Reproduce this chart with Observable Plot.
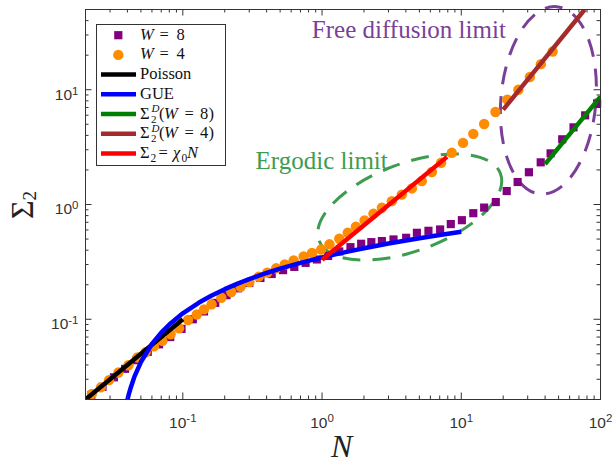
<!DOCTYPE html>
<html><head><meta charset="utf-8">
<script src="https://cdn.jsdelivr.net/npm/d3@7"></script>
<script src="https://cdn.jsdelivr.net/npm/@observablehq/plot@0.6"></script>
<style>
body{margin:0;background:#fff;}
#wrap{position:relative;width:613px;height:462px;}
#overlay{position:absolute;left:0;top:0;pointer-events:none;}
</style></head><body>
<div id="wrap"></div>
<script>
// ---- data ----
// W = 8 (purple squares)
const N8 = [0.0220,0.0265,0.0320,0.0385,0.0464,0.0560,0.0675,0.0812,0.0979,0.118,0.142,0.171,0.206,0.249,0.300,0.361,0.435,0.525,0.632,0.762,0.918,1.106,1.33,1.60,1.91,2.26,2.69,3.26,4.02,4.80,5.81,7.05,8.41,10.1,12.2,14.6,17.7,21.2,25.4,30.6,37.2,43.8,53.1,64.0,77.6,94.6];
const S8 = [0.0218,0.0258,0.0312,0.0370,0.0440,0.0520,0.0605,0.0700,0.0825,0.1,0.117,0.139,0.162,0.186,0.207,0.229,0.248,0.268,0.286,0.310,0.332,0.356,0.39,0.425,0.455,0.47,0.48,0.496,0.513,0.567,0.59,0.606,0.675,0.73,0.84,0.94,1.05,1.31,1.57,1.91,2.33,2.79,3.70,4.70,5.98,7.60];
// W = 4 (orange circles)
const N4 = [0.0222,0.0258,0.0295,0.0345,0.0407,0.0472,0.0541,0.0621,0.0713,0.0817,0.094,0.109,0.126,0.142,0.161,0.189,0.223,0.26,0.301,0.351,0.404,0.468,0.54,0.625,0.738,0.847,0.984,1.13,1.33,1.53,1.75,2.02,2.34,2.69,3.17,3.74,4.42,5.21,6.15,7.17,8.55,10.3,12.2,14.6,17.6,21.4,25.7,31.1,37.3,45.3];
const S4 = [0.0223,0.0255,0.0295,0.0344,0.0398,0.0465,0.0516,0.0582,0.0648,0.0741,0.0835,0.0986,0.110,0.122,0.135,0.154,0.173,0.192,0.211,0.235,0.255,0.278,0.30,0.325,0.352,0.378,0.405,0.45,0.503,0.567,0.64,0.726,0.83,0.936,1.07,1.22,1.38,1.60,1.92,2.31,2.82,3.44,4.12,5.03,6.4,8.19,10.0,12.9,16.7,21.5];
// Poisson
const NP = [0.02, 0.1];
const SP = [0.02, 0.1];
// GUE
const NG = [0.04,0.041,0.042,0.045,0.05,0.06,0.07,0.08,0.1,0.13,0.16,0.2,0.25,0.3,0.4,0.5,0.7,1,1.5,2,3,5,7,10];
const SG = [0.0199,0.0224,0.0248,0.0318,0.0424,0.0609,0.0766,0.0901,0.1127,0.1393,0.1603,0.183,0.2055,0.224,0.2531,0.2758,0.3098,0.346,0.387,0.4162,0.4573,0.509,0.543,0.579];
// Sigma2^D (W=8), (W=4), chi0 N
const NDg = [40, 100];  const SDg = [2.25, 8.7];
const NDb = [20, 77];   const SDb = [6.7, 50];
const NR = [1, 7.9];    const SR = [0.33, 2.6];
// ticks
const xMajor = [0.1, 1, 10, 100];
const xMinor = [0.03,0.04,0.05,0.06,0.07,0.08,0.09,0.2,0.3,0.4,0.5,0.6,0.7,0.8,0.9,2,3,4,5,6,7,8,9,20,30,40,50,60,70,80,90];
const yMajor = [0.1, 1, 10];
const yMinor = [0.03,0.04,0.05,0.06,0.07,0.08,0.09,0.2,0.3,0.4,0.5,0.6,0.7,0.8,0.9,2,3,4,5,6,7,8,9,20,30,40];
// annotations
const notes = [
  {N: 0.333, S: 2.37, t: "Ergodic limit", c: "#3d9c4f", fs: 25},
  {N: 0.845, S: 33.0, t: "Free diffusion limit", c: "#7b3f99", fs: 25}
];
const ellipseSpecs = [
  {N: 4.3, S: 0.94, rx: 96.7, ry: 43.9, rot: -20.2, color: "#3d9c4f"},
  {N: 42.6, S: 8.0, rx: 47.5, ry: 94, rot: 5, color: "#7b3f99"}
];

const SERIF = "'Liberation Serif', 'Times New Roman', serif";
const tab = (xs, ys) => xs.map((n, i) => ({N: n, S: ys[i]}));
const W = 613, H = 462, mL = 85, mR = 13, mT = 9, mB = 63;
const FW = W - mL - mR, FH = H - mT - mB;
const fmt = d => "10^" + Math.round(Math.log10(d));

function ellipses(index, scales) {
  const g = d3.create("svg:g").attr("fill", "none").attr("stroke-width", 3).attr("stroke-dasharray", "18,12");
  for (const e of ellipseSpecs) {
    g.append("ellipse").attr("cx", 0).attr("cy", 0).attr("rx", e.rx).attr("ry", e.ry)
      .attr("transform", `translate(${scales.x(e.N)},${scales.y(e.S)}) rotate(${e.rot})`)
      .attr("stroke", e.color);
  }
  return g.node();
}

const lw = 4.5;
const chart = Plot.plot({
  width: W, height: H, marginLeft: mL, marginRight: mR, marginTop: mT, marginBottom: mB,
  x: {type: "log", domain: [0.02, 100]},
  y: {type: "log", domain: [0.02, 50]},
  style: {background: "#fff", color: "#333", fontFamily: "'Liberation Sans', Arial, sans-serif"},
  marks: [
    ellipses,
    Plot.dot(tab(N8, S8), {x: "N", y: "S", symbol: "square", r: 4.6, fill: "#800080"}),
    Plot.dot(tab(N4, S4), {x: "N", y: "S", r: 5.2, fill: "#ff8c00"}),
    Plot.line(tab(NP, SP), {x: "N", y: "S", stroke: "#000", strokeWidth: lw, strokeLinecap: "butt", clip: true}),
    Plot.line(tab(NG, SG), {x: "N", y: "S", stroke: "#0000ff", strokeWidth: lw, strokeLinecap: "butt", clip: true}),
    Plot.line(tab(NDg, SDg), {x: "N", y: "S", stroke: "#008000", strokeWidth: lw, strokeLinecap: "butt", clip: true}),
    Plot.line(tab(NDb, SDb), {x: "N", y: "S", stroke: "#a52a2a", strokeWidth: lw, strokeLinecap: "butt", clip: true}),
    Plot.line(tab(NR, SR), {x: "N", y: "S", stroke: "#ff0000", strokeWidth: lw, strokeLinecap: "butt", clip: true}),
    ...notes.map(n => Plot.text([n], {x: "N", y: "S", text: "t", textAnchor: "start", fill: n.c, fontSize: n.fs, fontFamily: SERIF})),
    // MATLAB-style inward ticks on all four sides
    Plot.tickX(xMajor, {x: d => d, insetTop: FH - 6.5, stroke: "#333"}),
    Plot.tickX(xMajor, {x: d => d, insetBottom: FH - 6.5, stroke: "#333"}),
    Plot.tickX(xMinor, {x: d => d, insetTop: FH - 3.5, stroke: "#333"}),
    Plot.tickX(xMinor, {x: d => d, insetBottom: FH - 3.5, stroke: "#333"}),
    Plot.tickY(yMajor, {y: d => d, insetRight: FW - 6.5, stroke: "#333"}),
    Plot.tickY(yMajor, {y: d => d, insetLeft: FW - 6.5, stroke: "#333"}),
    Plot.tickY(yMinor, {y: d => d, insetRight: FW - 3.5, stroke: "#333"}),
    Plot.tickY(yMinor, {y: d => d, insetLeft: FW - 3.5, stroke: "#333"}),
    Plot.frame({stroke: "#333", strokeWidth: 1}),
    Plot.axisX(xMajor, {tickSize: 0, tickPadding: 17, tickFormat: fmt, fontSize: 16, label: null}),
    Plot.axisY(yMajor, {tickSize: 0, tickPadding: 7, dy: 5, tickFormat: fmt, fontSize: 16, label: null})
  ]
});

// turn "10^k" tick labels into 10 with a raised exponent
const NS = "http://www.w3.org/2000/svg";
chart.querySelectorAll("text").forEach(t => {
  const m = /^10\^(-?\d+)$/.exec(t.textContent);
  if (!m) return;
  t.textContent = "";
  t.setAttribute("font-size", "15.5");
  t.style.fontSize = "15.5px";
  const a = document.createElementNS(NS, "tspan"); a.textContent = "10";
  const b = document.createElementNS(NS, "tspan"); b.textContent = m[1];
  b.setAttribute("dy", "-0.45em"); b.setAttribute("font-size", "11.5");
  t.append(a, b);
});

const wrap = document.getElementById("wrap");
wrap.appendChild(chart);

// legend and axis titles
const c = [35.2, 54.9, 74.6, 94.3, 114, 133.7, 153.4];
const bl = c.map(v => v + 4.5);
const overlay = `
<svg id="overlay" width="613" height="462" style="font-family:${SERIF}" font-size="16.5" fill="#111">
  <rect x="96.5" y="24.5" width="129" height="141" fill="#fff" stroke="#333" stroke-width="1"/>
  <rect x="114.2" y="${c[0]-4.1}" width="8.2" height="8.2" fill="#800080"/>
  <circle cx="118.3" cy="${c[1]}" r="5.2" fill="#ff8c00"/>
  <line x1="101" x2="136" y1="${c[2]}" y2="${c[2]}" stroke="#000" stroke-width="4.5"/>
  <line x1="101" x2="136" y1="${c[3]}" y2="${c[3]}" stroke="#0000ff" stroke-width="4.5"/>
  <line x1="101" x2="136" y1="${c[4]}" y2="${c[4]}" stroke="#008000" stroke-width="4.5"/>
  <line x1="101" x2="136" y1="${c[5]}" y2="${c[5]}" stroke="#a52a2a" stroke-width="4.5"/>
  <line x1="101" x2="136" y1="${c[6]}" y2="${c[6]}" stroke="#ff0000" stroke-width="4.5"/>
  <text y="${bl[0]}"><tspan x="140" font-style="italic">W</tspan><tspan x="159.5">=</tspan><tspan x="176.5">8</tspan></text>
  <text y="${bl[1]}"><tspan x="140" font-style="italic">W</tspan><tspan x="159.5">=</tspan><tspan x="176.5">4</tspan></text>
  <text x="140" y="${bl[2]}">Poisson</text>
  <text x="140" y="${bl[3]}">GUE</text>
  <text y="${bl[4]}"><tspan x="140">Σ</tspan><tspan x="151" dy="4" font-size="11">2</tspan><tspan x="151.5" dy="-10.5" font-size="11" font-style="italic">D</tspan><tspan x="159" dy="6.5">(</tspan><tspan x="164" font-style="italic">W</tspan><tspan x="184.5">=</tspan><tspan x="200">8</tspan><tspan x="208.5">)</tspan></text>
  <text y="${bl[5]}"><tspan x="140">Σ</tspan><tspan x="151" dy="4" font-size="11">2</tspan><tspan x="151.5" dy="-10.5" font-size="11" font-style="italic">D</tspan><tspan x="159" dy="6.5">(</tspan><tspan x="164" font-style="italic">W</tspan><tspan x="184.5">=</tspan><tspan x="200">4</tspan><tspan x="208.5">)</tspan></text>
  <text y="${bl[6]}"><tspan x="140">Σ</tspan><tspan x="150.5" dy="4" font-size="11.5">2</tspan><tspan x="158.5" dy="-4">=</tspan><tspan x="173" font-style="italic">χ</tspan><tspan x="181.5" dy="4" font-size="11.5">0</tspan><tspan x="187" dy="-4" font-style="italic">N</tspan></text>
  <text x="341.7" y="457" text-anchor="middle" font-style="italic" font-size="32" fill="#222">N</text>
  <text transform="translate(33,205) rotate(-90)" text-anchor="middle" font-size="32" fill="#222">Σ<tspan font-size="19" dy="3">2</tspan></text>
</svg>`;
wrap.insertAdjacentHTML("beforeend", overlay);
</script>
</body></html>
